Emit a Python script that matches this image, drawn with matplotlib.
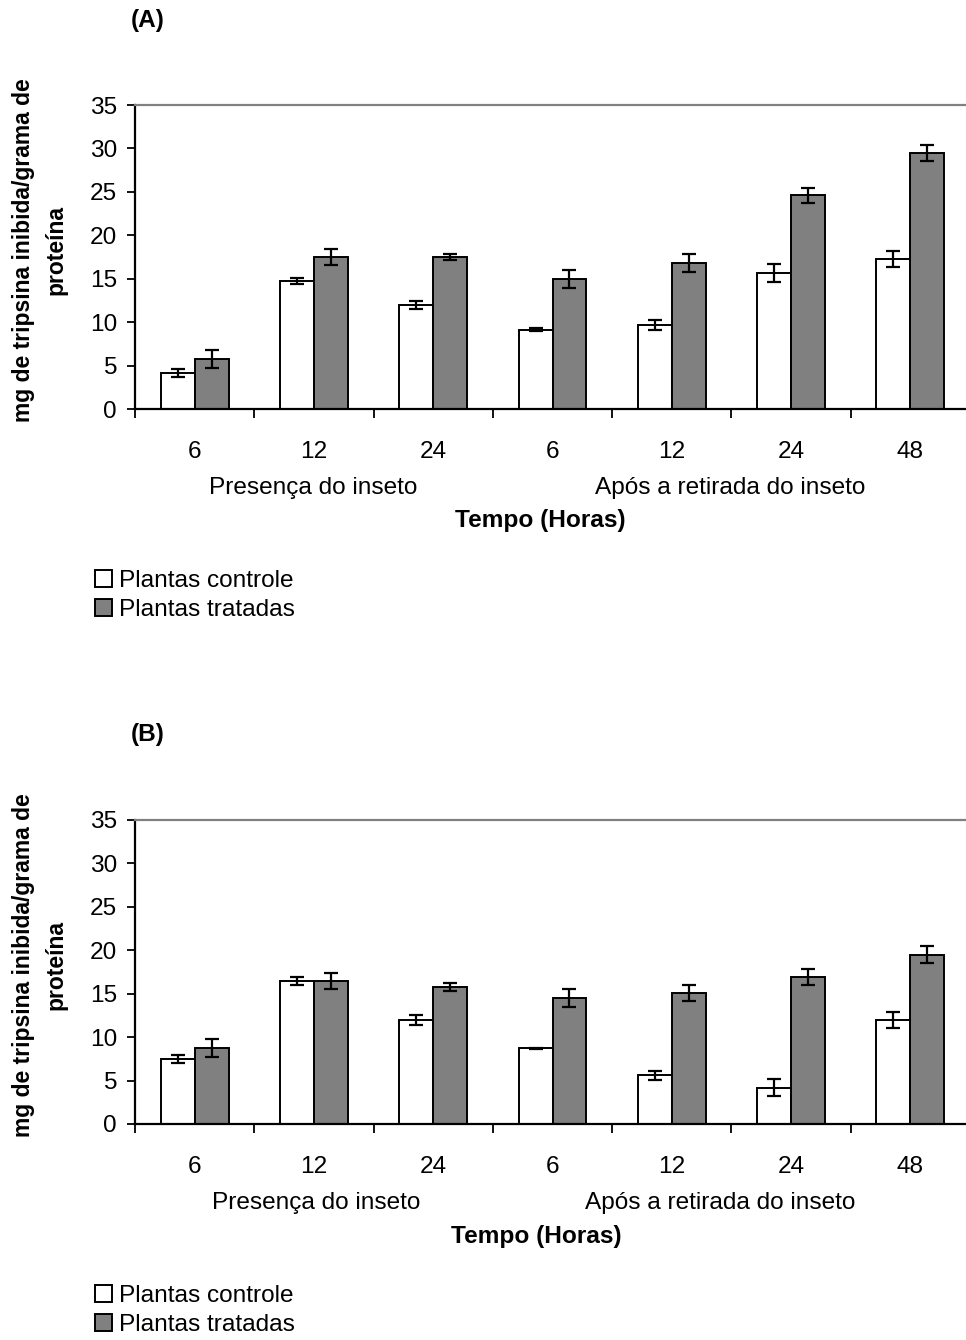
import numpy as np
import matplotlib
matplotlib.use("Agg")
import matplotlib.pyplot as plt

plt.rcParams["font.family"] = ["Liberation Sans", "DejaVu Sans"]

# Time points (hours) and the two phases
categories = ["6", "12", "24", "6", "12", "24", "48"]
groups = ["Presença do inseto", "Após a retirada do inseto"]
series_names = ["Plantas controle", "Plantas tratadas"]

# Panel A
a_control = [4.1, 14.7, 11.95, 9.15, 9.7, 15.7, 17.25]
a_control_err = [0.45, 0.35, 0.45, 0.2, 0.6, 1.05, 0.9]
a_treated = [5.8, 17.5, 17.5, 14.95, 16.8, 24.6, 29.5]
a_treated_err = [1.05, 0.9, 0.4, 1.0, 1.0, 0.9, 0.9]

# Panel B
b_control = [7.5, 16.5, 11.95, 8.7, 5.6, 4.2, 12.0]
b_control_err = [0.5, 0.45, 0.6, 0.1, 0.55, 1.0, 0.9]
b_treated = [8.75, 16.5, 15.8, 14.5, 15.1, 16.95, 19.5]
b_treated_err = [1.0, 0.9, 0.45, 1.0, 0.9, 0.9, 1.0]

FS = 17.6
W, H = 966, 1340
fig = plt.figure(figsize=(W / 100, H / 100), dpi=100)


def fx(px):
    return px / W


def fy(py):
    return 1 - py / H


def panel(top_px, control, control_err, treated, treated_err, letter, offs):
    ax = fig.add_axes([fx(135), fy(top_px + 304), fx(970) - fx(135), 304 / H])
    x = np.arange(len(categories))
    bw = 0.285
    err_kw = dict(ecolor="black", elinewidth=1.6, capsize=5, capthick=1.6)
    b1 = ax.bar(x - bw / 2, control, bw, yerr=control_err, color="white",
                edgecolor="black", linewidth=1.4, error_kw=err_kw)
    b2 = ax.bar(x + bw / 2, treated, bw, yerr=treated_err, color="#808080",
                edgecolor="black", linewidth=1.4, error_kw=err_kw)

    ax.set_xlim(-0.5, 6.5)
    ax.set_ylim(0, 35)
    ax.set_yticks(range(0, 36, 5))
    ax.tick_params(axis="y", direction="out", length=6, width=1.3,
                   labelsize=FS, pad=7)
    ax.set_xticks(np.arange(-0.5, 6.0, 1.0))
    ax.set_xticklabels([])
    ax.tick_params(axis="x", which="major", direction="out", length=6.5,
                   width=1.3)
    ax.set_xticks(x, minor=True)
    ax.set_xticklabels(categories, minor=True)
    ax.tick_params(axis="x", which="minor", length=0, labelsize=FS, pad=23)

    for s in ["left", "bottom"]:
        ax.spines[s].set_linewidth(1.6)
        ax.spines[s].set_color("black")
    for s in ["top", "right"]:
        ax.spines[s].set_linewidth(1.6)
        ax.spines[s].set_color("#808080")

    fig.text(fx(148), fy(top_px - 85), letter, fontsize=FS, fontweight="bold",
             ha="center", va="center")
    fig.text(fx(40), fy(top_px + 145), "mg de tripsina inibida/grama de\nproteína",
             rotation=90, fontsize=16.5, fontweight="bold", ha="center",
             va="center", multialignment="center", linespacing=1.5)
    fig.text(fx(offs[0]), fy(top_px + 383), groups[0], fontsize=FS,
             ha="center", va="center")
    fig.text(fx(offs[1]), fy(top_px + 383), groups[1], fontsize=FS,
             ha="center", va="center")
    fig.text(fx(offs[2]), fy(top_px + 416), "Tempo (Horas)", fontsize=FS,
             fontweight="bold", ha="center", va="center")

    fig.legend([b1, b2], series_names, loc="upper left",
               bbox_to_anchor=(fx(95), fy(top_px + 465)), frameon=False,
               fontsize=FS, handlelength=0.68, handleheight=0.68,
               handletextpad=0.32, labelspacing=0.28, borderpad=0,
               borderaxespad=0)
    return ax


panel(105, a_control, a_control_err, a_treated, a_treated_err, "(A)",
      (313, 730, 540))
panel(820, b_control, b_control_err, b_treated, b_treated_err, "(B)",
      (316, 720, 536))

fig.savefig("out.png", dpi=100)
